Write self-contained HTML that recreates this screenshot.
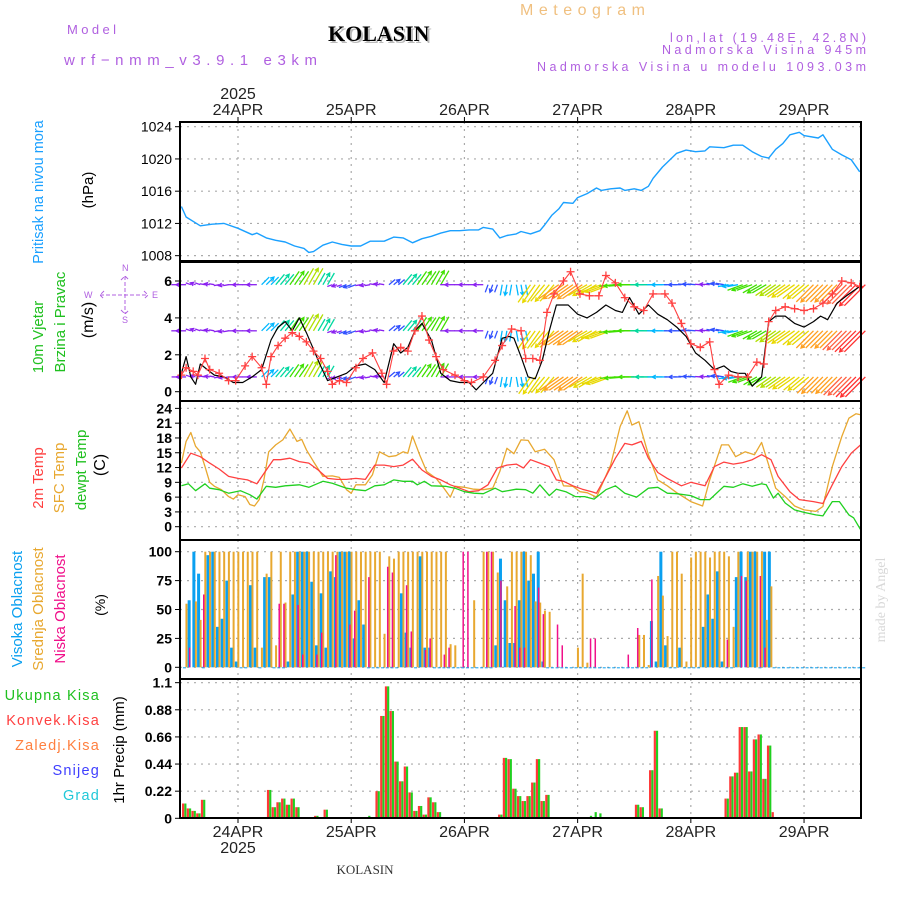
<!DOCTYPE html>
<html><head><meta charset="utf-8"><style>
html,body{margin:0;padding:0;background:#fff;}
svg{display:block;font-family:"Liberation Sans",sans-serif;}
</style></head><body>
<svg id="chart" width="900" height="900" viewBox="0 0 900 900" xmlns="http://www.w3.org/2000/svg">
<g>
<text x="67" y="34" fill="#b060e0" font-size="13" textLength="49" lengthAdjust="spacing">Model</text>
<text x="64" y="65" fill="#b060e0" font-size="15" textLength="253" lengthAdjust="spacing">wrf−nmm_v3.9.1 e3km</text>
<text x="330" y="43" fill="#bbb" font-family="Liberation Serif,serif" font-weight="bold" font-size="22">KOLASIN</text>
<text x="328" y="41" fill="#000" font-family="Liberation Serif,serif" font-weight="bold" font-size="22">KOLASIN</text>
<text x="520" y="15" fill="#f0c080" font-size="16" textLength="125" lengthAdjust="spacing">Meteogram</text>
<text x="670" y="42" fill="#b060e0" font-size="12.5" textLength="196" lengthAdjust="spacing">lon,lat (19.48E, 42.8N)</text>
<text x="662" y="54" fill="#b060e0" font-size="12.5" textLength="204" lengthAdjust="spacing">Nadmorska Visina 945m</text>
<text x="537" y="71" fill="#b060e0" font-size="12.5" textLength="329" lengthAdjust="spacing">Nadmorska Visina u modelu 1093.03m</text>
</g>
<g id="g"></g>
</svg>
<script>
// ---- data ----
const dayLabels = ['24APR','25APR','26APR','27APR','28APR','29APR'];
const dayHours = [12,36,60,84,108,132];
const pressTicks = [1008,1012,1016,1020,1024];
const windTicks = [0,2,4,6];
const tempTicks = [0,3,6,9,12,15,18,21,24];
const cloudTicks = [0,25,50,75,100];
const precipTicks = [0,0.22,0.44,0.66,0.88,1.1];
const precipTickLabels = ['0','0.22','0.44','0.66','0.88','1.1'];

const pressHours = [0,1,4,6.5,9,12,15,16,18,20,22,24,26,27,28,30,32,34,36,38,40,43,45,47,49,51,53,55,57,59,61,63,64,66,67.5,69,71,72,74,76,77,78.5,80,81,83,84,86,88,89,91,93,94,96,97.5,99,100,102,105,107,109,111,112,115,117,119,121,123,124.5,126,127.5,129,131,132,135,136,138,140,142,143.8];
const pressValues = [1014.1,1012.8,1011.7,1011.9,1012.0,1011.4,1010.6,1010.8,1010.2,1009.9,1009.7,1009.2,1008.9,1008.4,1008.5,1009.3,1009.7,1009.4,1009.2,1009.2,1009.8,1009.8,1010.3,1010.2,1009.6,1010.1,1010.4,1010.8,1011.1,1011.1,1011.2,1011.2,1011.5,1011.3,1010.2,1010.5,1010.7,1011.0,1010.7,1011.1,1011.8,1013.0,1013.8,1014.6,1014.5,1015.2,1015.7,1016.4,1016.1,1016.3,1016.4,1016.1,1016.3,1016.1,1016.6,1017.6,1019.0,1020.7,1021.1,1020.9,1021.0,1021.5,1021.4,1021.7,1021.7,1020.9,1020.3,1020.1,1021.2,1021.9,1023.0,1023.3,1022.9,1022.6,1023.0,1021.2,1020.5,1019.9,1018.4];

const windHours = [0,1,2,3,4,5.5,7,9,11,13,15,17,19,20.5,22,23.5,25,26.5,28,29.5,31,33,35,37,39,41,43,45,46.5,48,49.5,51,53,55,57,59,61,62.5,64,66,68,69.5,70.5,72,73.5,75,76.5,78,79.5,82,84,86,88,90,92,93.5,95,97,99,101,103,105,107,109,111,113,115,116.5,118,119.5,121,123,124.5,126,128,130,132,134,135.5,137,139,141,143.8];
const windSpeed = [1.0,1.9,0.8,0.4,1.5,1.2,0.9,0.8,0.5,0.5,0.8,1.2,2.8,3.5,3.8,3.3,4.0,3.2,2.3,1.4,0.6,0.8,1.0,1.4,1.5,1.2,0.5,2.6,2.1,2.4,3.3,3.7,2.8,1.0,0.6,0.5,0.5,0.1,0.5,1.0,2.9,3.0,2.9,1.9,0.8,0.7,1.7,3.3,4.7,4.7,4.2,4.0,4.3,4.7,4.4,4.3,5.1,4.2,4.7,4.2,3.9,3.5,3.0,2.1,1.7,1.2,1.4,1.1,1.0,1.0,0.3,0.8,3.8,4.1,4.1,3.7,3.5,3.8,4.1,3.9,4.8,5.2,5.7];
const gustHours = [0,1,2.5,3.5,5,6,8,10,11.5,13.5,15,17,18,19,20.5,22,23.5,25,26.5,28,29.5,31,32,33.5,35,37,38.5,40.5,42.5,43.5,45,46.5,48,49.5,51,52.5,54,55.5,58,60,61.5,64,66.5,68,70,72,73,74.5,76,77.5,79,81,82.5,84.5,86.5,88.5,90,92,94,96,98,100,102.5,104,106,108,110,112,113,114,116,118,120,122,123.5,124.5,126,128,130,132,134,136,138,140,142,143.8];
const gustSpeed = [0.9,1.3,1.1,0.9,1.8,1.2,1.0,0.6,0.6,1.4,1.9,1.3,0.4,1.9,2.5,2.9,3.2,3.0,2.7,2.2,1.8,1.1,0.4,0.6,0.5,1.3,1.8,2.1,1.0,0.4,2.2,2.4,2.2,3.3,4.1,2.8,1.9,1.2,0.9,0.6,0.5,0.8,1.7,2.5,3.4,3.3,1.8,1.8,1.7,4.3,5.3,6.0,6.5,5.3,5.2,5.2,6.3,5.9,5.1,4.6,4.4,5.3,5.3,4.8,3.7,2.6,2.4,2.7,1.2,0.4,0.9,0.8,0.8,1.6,1.5,3.8,4.4,4.6,4.5,4.4,4.5,4.8,5.3,6.0,5.9,5.7];
const arrowRows = [5.8,3.3,0.8];
const arrowRowScale = [1.0,1.0,0.95];
const arrowHours = [0,3,6,9,12,15,18,21,24,27,30,33,36,39,42,45,48,51,54,57,60,63,66,69,72,75,78,81,84,87,90,93,96,99,102,105,108,111,114,117,120,123,126,129,132,135,138,141,144];
const arrowSpeed = [2,2,2,2,2,2,4,5,6,7,5,2,3,2,2,3,5,6,6,2,2,2,3,4,4,8,8,9,9,8,8,6,6,5,4,3,3,2,3,4,6,6,7,8,8,9,9,10,11];
const arrowDir = [180,160,170,190,180,180,45,50,55,60,60,200,200,190,170,40,50,55,60,180,180,180,250,260,280,235,230,215,215,210,200,185,180,180,180,180,175,175,170,190,200,210,215,215,220,225,225,225,225];

const sfcHours = [0,1,2,3,4,5,6,7,8.5,10,11,12,13.5,14.5,15.5,16.5,17.5,18.5,20,21.5,23,24.5,25.5,26.5,28,30,32,33.5,35,36,37,39,40.5,42,44,45.5,47,48,49,50.5,52,54,55.5,57,58,60,62,64,66,67.5,69,70.5,72,73.5,75,77,79,81,83,84.5,86,88,91,93,94.5,95.5,97,99,101,103,105,108,110.5,112,114.5,116,117.5,119.5,121.5,123,124.5,126,128,130,132,134.5,136,138,140,141.5,143,144];
const sfcTemp = [12.9,17.3,19.1,16.3,15.2,12.2,9.0,8.2,7.5,6.1,5.6,6.5,6.1,4.5,4.2,5.5,9.5,15.2,16.6,17.6,19.8,17.3,17.7,15.6,13.2,10.2,10.3,10.0,7.5,6.8,8.5,8.5,10.5,15.2,14.2,14.4,15.2,14.9,18.4,14.6,11.2,9.8,8.0,6.0,8.2,8.0,7.6,7.5,7.8,11.2,15.9,14.8,17.6,17.5,15.2,15.7,13.6,8.3,8.2,7.1,6.9,6.0,12.5,20.3,23.5,20.6,21.3,14.6,9.5,8.3,6.9,5.1,4.2,9.5,16.6,16.6,14.2,15.2,14.6,17.1,12.5,7.8,6.1,4.2,3.4,3.1,4.1,12.2,18.3,22.0,22.9,22.7];
const t2Hours = [0,2,4,6,8,10,12,14,16,18,19.5,21,23,25,27,29,31,33,35,37,39,41,43,45,47,49,51,53,55,57,59,61,63,65,67,69,71,72.5,74,76,78,79.5,81,83,85,87,88,90,92,94,95.5,97.5,99,101,103,106,108,111,113,115,117,119,121,123,125,126.5,129,131,134,136,138,140,142,144];
const t2Temp = [11.9,14.9,14.2,12.9,11.7,10.2,9.8,9.5,8.7,11.5,13.6,13.6,13.9,13.2,12.9,11.5,9.8,9.6,9.6,9.8,9.6,12.5,12.5,12.2,12.5,13.7,11.5,10.2,9.5,8.5,7.8,7.1,7.3,8.5,11.9,12.5,12.7,11.9,13.6,12.9,12.2,9.5,9.2,8.3,7.6,7.1,6.8,10.2,13.9,16.9,16.6,17.3,13.9,11.0,9.8,8.3,9.0,8.3,12.2,13.1,12.7,13.0,13.6,14.6,13.6,10.2,7.1,5.5,5.1,4.7,8.5,12.2,14.9,16.6];
const dewHours = [0,1.5,3,5,6,8,10,12.5,14.5,16,18,20,22,25,27,30,32,35,37,39,41,43,45,47,49,50,51.5,53,56,58,60,62,64,66.5,68,71,73,74.5,76,78,79.5,81.5,83.5,85.5,87.5,90,92,94,96.5,99,101,103,105,108,110,112,115,117,119,121,123,124,125.5,126.5,128,130,132,134.5,136,138,139.5,141.5,142.5,144];
const dewTemp = [8.3,8.7,7.3,8.7,7.8,7.5,6.8,7.3,6.5,5.6,8.2,8.0,8.3,8.5,8.0,9.2,8.8,7.8,7.5,7.3,8.3,8.5,9.5,9.2,9.2,8.5,9.2,8.3,8.2,7.8,7.1,6.8,6.7,7.8,7.1,7.6,7.5,6.8,8.5,6.3,7.6,7.1,6.1,6.1,5.6,7.5,8.3,6.8,6.0,7.8,8.0,6.8,6.7,6.3,5.5,5.5,8.2,8.0,8.7,8.2,8.7,8.5,5.8,6.8,4.8,3.4,2.9,2.4,2.2,5.1,5.1,2.4,1.8,-0.6];

const highCloud = [0,58,100,81,0,97,100,35,42,75, 17,5,0,0,71,17,0,78,78,0, 0,0,5,63,100,100,100,74,19,64, 17,83,78,100,100,100,25,58,37,0, 0,0,0,0,0,0,64,30,17,0, 96,17,17,0,0,0,0,0,0,0, 0,0,0,0,0,0,19,94,58,21, 21,58,100,75,81,100,5,0,0,0, 0,0,0,0,0,0,0,0,0,0, 0,0,0,0,0,0,0,0,0,40, 5,100,19,0,0,17,0,0,0,0, 35,63,42,83,5,0,0,78,100,78, 100,100,0,100,100,0,0,0,0,0, 0,0,0,0,0,0,0,0,0,0, 0,0,0,0,0];
const midCloud = [55,0,57,41,100,100,100,100,100,100, 100,100,100,100,100,100,17,81,100,19, 100,56,100,100,100,100,100,100,100,100, 100,100,100,100,100,100,100,100,100,100, 100,100,29,96,94,100,100,100,100,100, 100,100,100,100,100,100,20,19,0,0, 0,58,0,100,100,100,82,0,70,100, 100,100,100,97,57,56,49,48,0,0, 0,0,0,17,81,4,0,0,0,0, 0,0,0,0,0,0,28,28,2,0, 79,62,27,100,100,81,5,95,100,100, 100,95,100,100,100,96,35,100,0,100, 100,100,100,41,70,0,0,0,0,0, 0,0,0,0,0,0,0,0,0,0, 0,0,0,0,0];
const lowHours = [1,4,20,21,24,25,28,29,32,35,36,39,43,44,47,48,51,52,55,56,59,60,64,65,67,70,71,72,75,76,79,80,86,87,94,96,99,115,118,119,122,123];
const lowCloud = [17,63,55,55,54,11,11,30,97,37,49,78,87,82,71,31,15,25,11,17,100,100,100,100,75,53,17,17,69,46,37,19,25,25,11,34,76,24,79,75,79,17];

const rainHours = [0,1,2,3,4, 18,19,20,21,22,23,24,25,26,28,30, 38,39,41,42,43,44,45,46,47,48,49,50,51,52,53,54, 60,61,62,63,64,67,68,69,70,71,72,73,74,75,76,77, 86,87,88, 96,97,99,100,101, 115,116,117,118,119,120,121,122,123,124,125];
const rainTotal = [0.12,0.08,0.06,0.04,0.15, 0.23,0.09,0.13,0.16,0.11,0.16,0.09,0.01,0.01,0.02,0.07, 0.01,0.02,0.22,0.83,1.07,0.87,0.46,0.30,0.42,0.21,0.06,0.10,0.03,0.17,0.13,0.05, 0.01,0.01,0.01,0.01,0.01,0.03,0.49,0.48,0.24,0.18,0.14,0.18,0.29,0.48,0.14,0.19, 0.02,0.05,0.04, 0.11,0.09,0.39,0.71,0.08, 0.16,0.34,0.37,0.74,0.74,0.38,0.64,0.68,0.32,0.59,0];
const rainConv = [0.12,0.08,0.06,0.04,0.15, 0.23,0.09,0.13,0.16,0.11,0.16,0.09,0.01,0.01,0.02,0.07, 0,0,0.22,0.83,1.07,0.87,0.46,0.30,0.42,0.21,0.06,0.10,0.03,0.17,0.13,0.05, 0,0,0,0,0,0.03,0.49,0.48,0.24,0.18,0.14,0.18,0.29,0.48,0.14,0.19, 0,0,0, 0.11,0.09,0.39,0.71,0.08, 0.16,0.34,0.37,0.74,0.74,0.38,0.64,0.68,0.32,0.59,0.05];

// ---- scales ----
const X0 = 180, X1 = 861;
function xOf(h){ return 181.4 + 4.717*h; }
function yP(v){ return 126.7 + (1024 - v)*8.06; }
function yW(v){ return 391.7 - v*18.45; }
function yT(v){ return 526.7 - v*4.93; }
function yC(v){ return 667.3 - v*1.156; }
function yR(v){ return 818.3 - v*123.3; }
const panels = [{top:122,bot:261},{top:262,bot:401},{top:401,bot:540},{top:540,bot:679},{top:679,bot:818}];

const NS = 'http://www.w3.org/2000/svg';
const root = document.getElementById('g');
function mk(tag, attrs, parent){
  const e = document.createElementNS(NS, tag);
  for (const k in attrs) e.setAttribute(k, attrs[k]);
  (parent||root).appendChild(e);
  return e;
}

// grid
const grid = mk('g',{});


panels.forEach(p=>{
  dayHours.forEach(h=>{
    const l = mk('line',{x1:xOf(h),x2:xOf(h),y1:p.top,y2:p.bot,stroke:'#aaa','stroke-width':1.2,'stroke-dasharray':'2,5'},grid);
    
    
  });
});
function hgrid(ticks, yf, labels, name){
  const g = mk('g',{});
  
  
  ticks.forEach((v,i)=>{
    const y = yf(v);
    const l = mk('line',{x1:X0,x2:X1,y1:y,y2:y,stroke:'#aaa','stroke-width':1.2,'stroke-dasharray':'2,5'},g);
    
    
    const tk = mk('line',{x1:175,x2:X0,y1:y,y2:y,stroke:'#000','stroke-width':1},g);
    
    
    const tx = mk('text',{x:172,y:y+5,'text-anchor':'end','font-size':14,'font-weight':name==='pressure-axis'?'normal':'bold',fill:'#000'},g);
    tx.textContent = labels ? labels[i] : String(v);
    
    
  });
}
hgrid(pressTicks,yP,null,'pressure-axis');
hgrid(windTicks,yW,null,'wind-axis');
hgrid(tempTicks,yT,null,'temp-axis');
hgrid(cloudTicks,yC,null,'cloud-axis');
hgrid(precipTicks,yR,precipTickLabels,'precip-axis');

// day labels
dayHours.forEach((h,i)=>{
  let e = mk('text',{x:xOf(h),y:115,'text-anchor':'middle','font-size':16,fill:'#222'});
  e.textContent = dayLabels[i];
  
  
  e = mk('text',{x:xOf(h),y:837,'text-anchor':'middle','font-size':16,fill:'#222'});
  e.textContent = dayLabels[i];
  
  
  e = mk('line',{x1:xOf(h),x2:xOf(h),y1:117,y2:122,stroke:'#000'});
  
  
  e = mk('line',{x1:xOf(h),x2:xOf(h),y1:818,y2:823,stroke:'#000'});
  
  
});
let yr = mk('text',{x:xOf(dayHours[0]),y:99,'text-anchor':'middle','font-size':16,fill:'#222'});
yr.textContent='2025';


yr = mk('text',{x:xOf(dayHours[0]),y:853,'text-anchor':'middle','font-size':16,fill:'#222'});
yr.textContent='2025';



function poly(hs, vs, yf, color, name, w){
  const n = Math.min(hs.length, vs.length);
  const pts = [];
  for (let i=0;i<n;i++) pts.push(xOf(hs[i]).toFixed(1)+','+yf(vs[i]).toFixed(1));
  const p = mk('polyline',{points:pts.join(' '),fill:'none',stroke:color,'stroke-width':w||1.3,'stroke-linejoin':'round'});
  
  
  return p;
}
poly(pressHours,pressValues,yP,'#1aa0ff','pressure-line',1.4);

// cloud bars
const cg = mk('g',{});


highCloud.forEach((v,h)=>{
  const x = xOf(h+0.75);
  const r = mk('rect',{x:x-2,y:yC(v),width:3,height:Math.max(1,yC(0)-yC(v)),fill:'#0aa0f0'},cg);
  
  
});
midCloud.forEach((v,h)=>{
  if(!v) return;
  const x = xOf(h+0.75);
  const r = mk('rect',{x:x+0.5,y:yC(v),width:2,height:yC(0)-yC(v),fill:'#e8a830'},cg);
  
  
});
lowHours.forEach((h,i)=>{
  const v = lowCloud[i];
  const x = xOf(h+0.75);
  const r = mk('rect',{x:x-0.8,y:yC(v),width:1.5,height:yC(0)-yC(v),fill:'#f0108a'},cg);
  
  
});

// wind arrows
const colorBySpeed = ['#8000ff','#8000ff','#8a20f0','#3050ff','#00b8ff','#00d8a0','#40e000','#b0e000','#e8d800','#ffa020','#ff6040','#ff3030'];
const ag = mk('g',{});


arrowRows.forEach((base,ri)=>{
  arrowHours.forEach((h,i)=>{
    const s = arrowSpeed[i]*arrowRowScale[ri];
    const a = arrowDir[i]*Math.PI/180;
    const L = s*2.7;
    const x0 = xOf(h), y0 = yW(base);
    const x1 = x0 + Math.cos(a)*L, y1 = y0 - Math.sin(a)*L;
    const c = colorBySpeed[Math.min(11,Math.round(arrowSpeed[i]))];
    for (let k=0;k<3;k++){
      const ox = (k-1)*4.7;
      const ln = mk('line',{x1:x0+ox,y1:y0,x2:x1+ox,y2:y1,stroke:c,'stroke-width':1.3},ag);
      
      
    }
    const hx1 = x1 - Math.cos(a-0.5)*4, hy1 = y1 + Math.sin(a-0.5)*4;
    const hx2 = x1 - Math.cos(a+0.5)*4, hy2 = y1 + Math.sin(a+0.5)*4;
    const hd = mk('polyline',{points:`${hx1},${hy1} ${x1},${y1} ${hx2},${hy2}`,fill:'none',stroke:c,'stroke-width':1.3},ag);
    
    
  });
});
poly(windHours,windSpeed,yW,'#000','wind-speed-line',1.2);
poly(gustHours,gustSpeed,yW,'#ff4040','wind-gust-line',1.1);
gustHours.forEach((h,i)=>{
  if(i>=gustSpeed.length) return;
  const x=xOf(h), y=yW(gustSpeed[i]);
  const m = mk('path',{d:`M${x-4},${y}H${x+4}M${x},${y-4}V${y+4}`,stroke:'#ff4040','stroke-width':1.3,fill:'none'});
  
  
});

poly(sfcHours,sfcTemp,yT,'#e8a830','sfc-temp-line',1.3);
poly(t2Hours,t2Temp,yT,'#ff4040','temp-2m-line',1.3);
poly(dewHours,dewTemp,yT,'#20d020','dewpoint-line',1.3);

// precip
const pg = mk('g',{});


rainHours.forEach((h,i)=>{
  const x = xOf(h+0.6);
  if (rainTotal[i]>0){
    const r = mk('rect',{x:x,y:yR(rainTotal[i]),width:2.2,height:yR(0)-yR(rainTotal[i]),fill:'#20d020'},pg);
    
    
  }
  if (rainConv[i]>0){
    const r = mk('rect',{x:x-2.2,y:yR(rainConv[i]),width:2.2,height:yR(0)-yR(rainConv[i]),fill:'#ff3838'},pg);
    
    
  }
});

// frames
panels.forEach((p,i)=>{
  const r = mk('rect',{x:X0,y:p.top,width:X1-X0,height:p.bot-p.top,fill:'none',stroke:'#000','stroke-width':2});
  
  
});

// side labels
function vtext(x,y,txt,color,size,name,anchor){
  const e = mk('text',{x:0,y:0,transform:`translate(${x},${y}) rotate(-90)`,'text-anchor':anchor||'middle',fill:color,'font-size':size});
  e.textContent = txt;
  
  
  return e;
}
vtext(43,192,'Pritisak na nivou mora','#1aa0ff',14.5,'pressure-title');
vtext(93,190,'(hPa)','#000',15,'pressure-unit');
vtext(43,337,'10m Vjetar','#20c020',15,'wind-title-1');
vtext(65,322,'Brzina i Pravac','#20c020',15,'wind-title-2');
vtext(93,320,'(m/s)','#000',16,'wind-unit');
vtext(43,478,'2m Temp','#ff4040',15,'temp-2m-title');
vtext(64,478,'SFC Temp','#e8a830',15,'sfc-temp-title');
vtext(86,470,'dewpt Temp','#20c020',15,'dewpt-title');
vtext(105,465,'(C)','#000',16,'temp-unit');
vtext(22,609,'Visoka Oblacnost','#0aa0f0',15,'high-cloud-title');
vtext(43,609,'Srednja Oblacnost','#e8a830',15,'mid-cloud-title');
vtext(65,609,'Niska Oblacnost','#f0108a',15,'low-cloud-title');
vtext(105,605,'(%)','#000',14,'cloud-unit');
vtext(124,750,'1hr Precip (mm)','#000',15,'precip-unit');
vtext(885,600,'made by Angel','#d8d8d8',14,'credit').setAttribute('font-family','Liberation Serif,serif');
const leg = [['Ukupna Kisa','#20c020',700],['Konvek.Kisa','#ff4040',725],['Zaledj.Kisa','#ff8040',750],['Snijeg','#4040ff',775],['Grad','#20c8d8',800]];
leg.forEach(l=>{
  const e = mk('text',{x:100,y:l[2],'text-anchor':'end',fill:l[1],'font-size':14.5,'letter-spacing':1.2});
  e.textContent = l[0];
  
  
});
// compass
const comp = mk('g',{fill:'#b060e0','font-size':9,stroke:'none'});


[['N',122,271],['S',122,323],['W',84,298],['E',152,298]].forEach(c=>{
  const e = mk('text',{x:c[1],y:c[2]},comp);
  e.textContent = c[0];
  
  
});
const cl = mk('path',{d:'M125,276V314M100,295H148M121,280L125,276L129,280M121,310L125,314L129,310M104,291L100,295L104,299M144,291L148,295L144,299',stroke:'#b060e0','stroke-width':1,fill:'none','stroke-dasharray':'4,2'},comp);


const ft = mk('text',{x:365,y:874,'text-anchor':'middle','font-family':'Liberation Serif,serif','font-size':13,fill:'#333'});
ft.textContent='KOLASIN';


</script>
</body></html>
